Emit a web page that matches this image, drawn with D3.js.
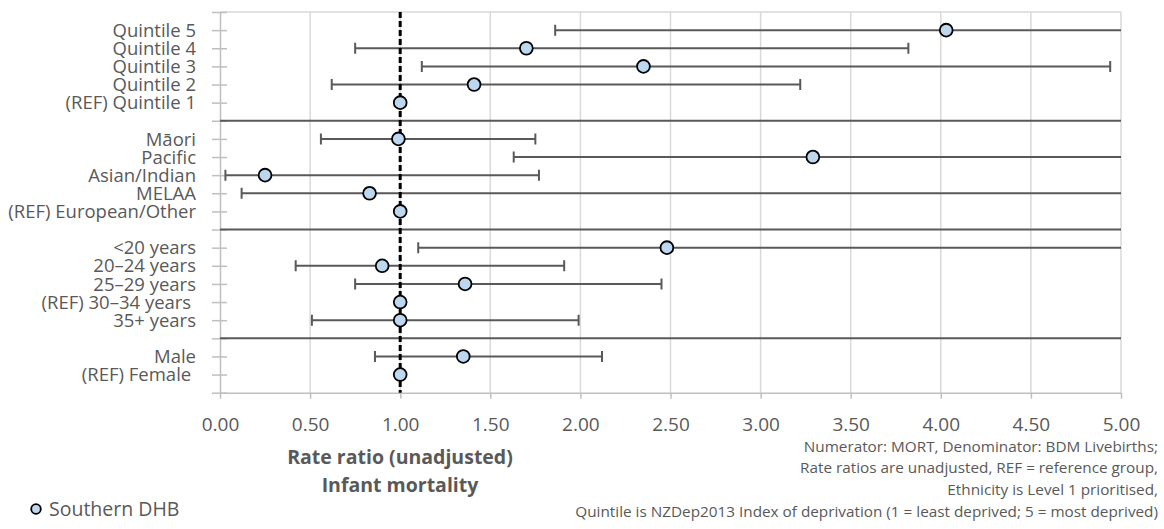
<!DOCTYPE html>
<html>
<head>
<meta charset="utf-8">
<script src="https://cdn.jsdelivr.net/npm/d3@7"></script>
<style>
  html, body { margin: 0; padding: 0; background: #fff; }
  svg { display: block; font-family: "Open Sans", "Noto Sans", sans-serif; }
</style>
</head>
<body>
<svg id="chart" width="1164" height="529"></svg>
<script>
// ---- data ----
const categories = ["Quintile 5", "Quintile 4", "Quintile 3", "Quintile 2", "(REF) Quintile 1", "",
  "Māori", "Pacific", "Asian/Indian", "MELAA", "(REF) European/Other", "",
  "<20 years", "20–24 years", "25–29 years", "(REF) 30–34 years ", "35+ years", "",
  "Male", "(REF) Female "];
const rateRatio = [4.03, 1.70, 2.35, 1.41, 1.00, null,
  0.99, 3.29, 0.25, 0.83, 1.00, null,
  2.48, 0.90, 1.36, 1.00, 1.00, null,
  1.35, 1.00];
const lowerCI = [1.86, 0.75, 1.12, 0.62, null, null,
  0.56, 1.63, 0.03, 0.12, null, null,
  1.10, 0.42, 0.75, null, 0.51, null,
  0.86, null];
const upperCI = [8.70, 3.82, 4.94, 3.22, null, null,
  1.75, 6.60, 1.77, 5.80, null, null,
  5.60, 1.91, 2.45, null, 1.99, null,
  2.12, null];
const xTicks = [0, 0.5, 1, 1.5, 2, 2.5, 3, 3.5, 4, 4.5, 5];
const seriesName = "Southern DHB";
const axisTitle = ["Rate ratio (unadjusted)", "Infant mortality"];
const notes = ["Numerator: MORT, Denominator: BDM Livebirths;",
  "Rate ratios are unadjusted, REF = reference group,",
  "Ethnicity is Level 1 prioritised,",
  "Quintile is NZDep2013 Index of deprivation (1 = least deprived; 5 = most deprived)"];

// ---- layout ----
const svg = d3.select("#chart");
const pLeft = 220, pRight = 1121, pTop = 12, pBottom = 392.7;
const x = d3.scaleLinear().domain([0, 5]).range([pLeft, pRight]);
const y = d3.scaleLinear().domain([0, categories.length + 1]).range([pTop, pBottom]);
const textCol = "#595959";
const lineCol = "#595959";

const rows = categories.map((c, i) => ({
  label: c, pos: i + 1, v: rateRatio[i], lo: lowerCI[i], hi: upperCI[i], sep: c === ""
}));

// gridlines
svg.append("g").selectAll("line").data(xTicks.slice(1)).join("line")
  .attr("x1", d => x(d)).attr("x2", d => x(d))
  .attr("y1", pTop).attr("y2", pBottom)
  .attr("stroke", "#d9d9d9").attr("stroke-width", 1.5);
// top border
svg.append("line").attr("x1", pLeft).attr("x2", pRight).attr("y1", pTop).attr("y2", pTop)
  .attr("stroke", "#d9d9d9").attr("stroke-width", 1.5);

// bottom axis
const xAxis = d3.axisBottom(x).tickValues(xTicks).tickFormat(d3.format(".2f"))
  .tickSizeInner(6).tickSizeOuter(0).tickPadding(19);
const gx = svg.append("g").attr("transform", `translate(0,${pBottom})`).call(xAxis);
gx.select(".domain").attr("stroke", "#bfbfbf").attr("stroke-width", 1.5);
gx.selectAll(".tick line").attr("stroke", "#bfbfbf").attr("stroke-width", 1.5);
gx.selectAll(".tick text").attr("fill", textCol).attr("font-size", 19)
  .attr("font-family", "Open Sans, sans-serif");

// left axis
const yTickVals = d3.range(0, categories.length + 2);
const yAxis = d3.axisLeft(y).tickValues(yTickVals).tickFormat("")
  .tickSizeInner(8).tickSizeOuter(0);
const gy = svg.append("g").attr("transform", `translate(${pLeft},0)`).call(yAxis);
gy.select(".domain").attr("stroke", "#bfbfbf").attr("stroke-width", 1.5);
gy.selectAll(".tick line").attr("stroke", "#bfbfbf").attr("stroke-width", 1.5)
  .attr("x2", 7).attr("x1", -8);

// y labels
svg.append("g").selectAll("text").data(rows.filter(r => !r.sep)).join("text")
  .attr("x", 196).attr("y", d => y(d.pos)).attr("dy", "0.36em")
  .attr("text-anchor", "end").attr("fill", textCol).attr("font-size", 18.5)
  .style("white-space", "pre")
  .text(d => d.label);

// clip
svg.append("clipPath").attr("id", "plotclip").append("rect")
  .attr("x", pLeft).attr("y", pTop).attr("width", pRight - pLeft).attr("height", pBottom - pTop);
const plot = svg.append("g").attr("clip-path", "url(#plotclip)");

// separators
plot.append("g").selectAll("line").data(rows.filter(r => r.sep)).join("line")
  .attr("x1", pLeft).attr("x2", pRight)
  .attr("y1", d => y(d.pos)).attr("y2", d => y(d.pos))
  .attr("stroke", lineCol).attr("stroke-width", 2);

// error bars
const eb = rows.filter(r => r.lo != null);
plot.append("g").selectAll("line").data(eb).join("line")
  .attr("x1", d => x(d.lo)).attr("x2", d => x(d.hi))
  .attr("y1", d => y(d.pos)).attr("y2", d => y(d.pos))
  .attr("stroke", lineCol).attr("stroke-width", 2);
const caps = [];
eb.forEach(d => { caps.push({ v: d.lo, pos: d.pos }); caps.push({ v: d.hi, pos: d.pos }); });
plot.append("g").selectAll("line").data(caps).join("line")
  .attr("x1", d => x(d.v)).attr("x2", d => x(d.v))
  .attr("y1", d => y(d.pos) - 5.5).attr("y2", d => y(d.pos) + 5.5)
  .attr("stroke", lineCol).attr("stroke-width", 2);

// reference dashed line
svg.append("line").attr("x1", x(1)).attr("x2", x(1)).attr("y1", pTop).attr("y2", pBottom)
  .attr("stroke", "#000").attr("stroke-width", 3).attr("stroke-dasharray", "6,3");

// points
svg.append("g").selectAll("circle").data(rows.filter(r => r.v != null)).join("circle")
  .attr("cx", d => x(d.v)).attr("cy", d => y(d.pos)).attr("r", 6.4)
  .attr("fill", "#bdd7ee").attr("stroke", "#000").attr("stroke-width", 1.8);

// axis title
svg.append("g").selectAll("text").data(axisTitle).join("text")
  .attr("x", 400).attr("y", (d, i) => 457 + i * 28).attr("dy", "0.36em")
  .attr("text-anchor", "middle").attr("font-weight", "bold").attr("font-size", 19.5)
  .attr("fill", textCol).text(d => d);

// notes
svg.append("g").selectAll("text").data(notes).join("text")
  .attr("x", 1158).attr("y", (d, i) => 446 + i * 21.7).attr("dy", "0.36em")
  .attr("text-anchor", "end").attr("font-size", 15.3).attr("fill", textCol).text(d => d);

// legend
svg.append("circle").attr("cx", 36).attr("cy", 509).attr("r", 4.8)
  .attr("fill", "#bdd7ee").attr("stroke", "#000").attr("stroke-width", 1.8);
svg.append("text").attr("x", 49).attr("y", 509).attr("dy", "0.36em")
  .attr("font-size", 19.5).attr("fill", textCol).text(seriesName);
</script>
</body>
</html>
